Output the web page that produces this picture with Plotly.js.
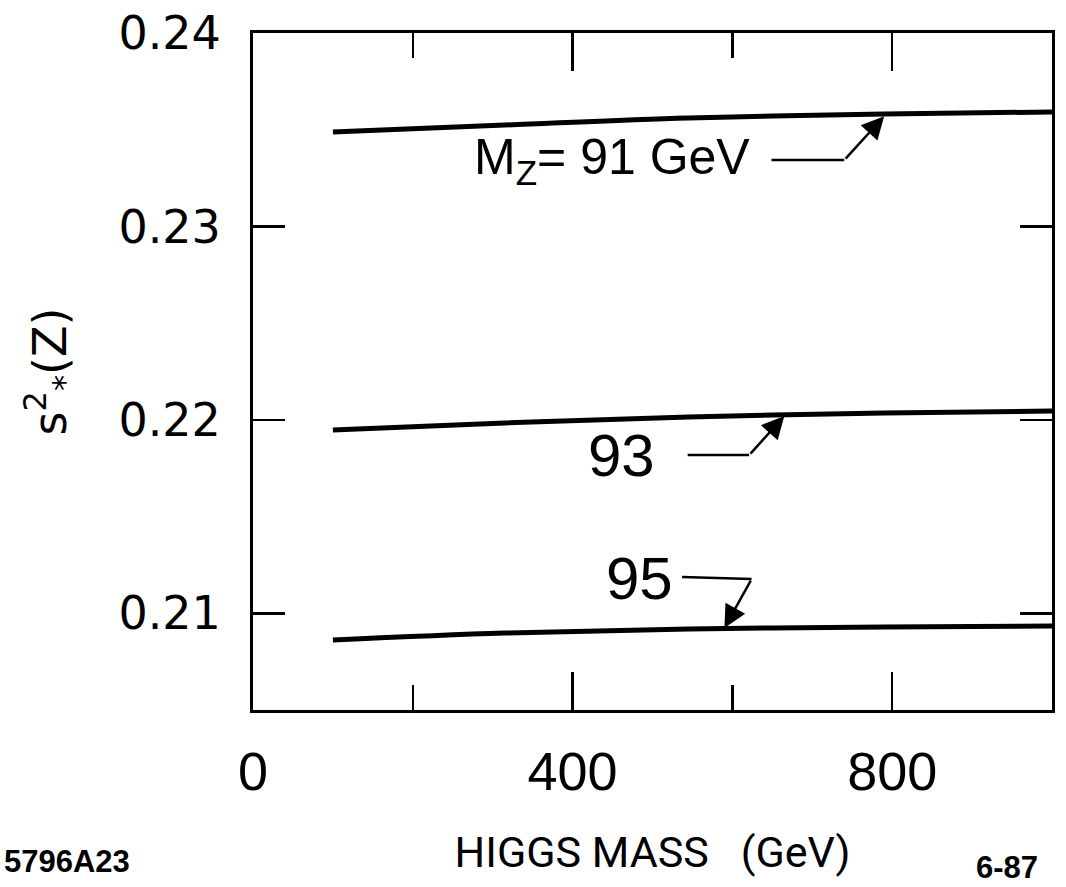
<!DOCTYPE html>
<html>
<head>
<meta charset="utf-8">
<script src="https://cdn.plot.ly/plotly-3.0.1.min.js"></script>
<style>html,body{margin:0;padding:0;background:#fff;}#chart{width:1066px;height:887px;}</style>
</head>
<body>
<div id="chart"></div>
<script>
// Higgs mass (GeV) sample points
const higgsMass = [100, 315, 545, 790, 1000];
// s*^2(Z) for the three Z masses
const mz91 = [0.23488, 0.23524, 0.23561, 0.23581, 0.23592];
const mz93 = [0.21948, 0.21984, 0.22015, 0.22035, 0.22046];
const mz95 = [0.20862, 0.20898, 0.20919, 0.20929, 0.20934];
const curveLabels = ['M<sub>Z</sub>= 91 GeV', '93', '95'];
const xTickVals = [0, 400, 800];
const xTickText = ['0', '400', '800'];
const yTickVals = [0.21, 0.22, 0.23, 0.24];
const yTickText = ['0.21', '0.22', '0.23', '0.24'];

const lineStyle = {color: 'black', width: 5, shape: 'spline'};
const traces = [mz91, mz93, mz95].map(function (ys, i) {
  return {x: higgsMass, y: ys, mode: 'lines', line: lineStyle, name: curveLabels[i], hoverinfo: 'skip'};
});

function seg(x0, y0, x1, y1) {
  return {type: 'line', xref: 'x', yref: 'y', x0: x0, y0: y0, x1: x1, y1: y1,
          line: {color: 'black', width: 2.5}};
}
function arrow(tx, ty, fx, fy) {
  return {x: tx, y: ty, ax: fx, ay: fy, xref: 'x', yref: 'y', axref: 'x', ayref: 'y',
          text: '', showarrow: true, arrowhead: 2, arrowsize: 1.8, arrowwidth: 2.5, arrowcolor: 'black', standoff: 0};
}
const annFont = {family: 'Liberation Sans, Arial, sans-serif', color: 'black'};

const layout = {
  width: 1066, height: 887,
  margin: {l: 253, r: 14, t: 33, b: 177},
  paper_bgcolor: 'white', plot_bgcolor: 'white',
  showlegend: false,
  xaxis: {
    range: [0, 1000], showgrid: false, zeroline: false,
    showline: true, linecolor: 'black', linewidth: 3, mirror: 'ticks',
    ticks: 'inside', ticklen: 38, tickwidth: 2.5, tickcolor: 'black',
    tickvals: xTickVals, ticktext: xTickText,
    minor: {dtick: 200, tick0: 0, ticks: 'inside', ticklen: 25, tickwidth: 2.5, tickcolor: 'black', showgrid: false},
    ticklabelstandoff: 12,
    tickfont: {family: 'Liberation Sans, Arial, sans-serif', size: 54, color: 'black'},
    title: {text: 'HIGGS MASS   (GeV)', standoff: 38,
            font: {family: 'Roboto, sans-serif', size: 43, color: 'black'}}
  },
  yaxis: {
    range: [0.205, 0.24], showgrid: false, zeroline: false,
    showline: true, linecolor: 'black', linewidth: 3, mirror: 'ticks',
    ticks: 'inside', ticklen: 32, tickwidth: 2.5, tickcolor: 'black',
    tickvals: yTickVals, ticktext: yTickText,
    ticklabelstandoff: 20,
    tickfont: {family: 'DejaVu Sans, sans-serif', size: 46, color: 'black'},
    title: {text: 's<sup>2</sup><sub>*</sub>(Z)', standoff: 38,
            font: {family: 'DejaVu Sans, sans-serif', size: 46, color: 'black'}}
  },
  shapes: [
    seg(649, 0.23343, 740, 0.23343),
    seg(544, 0.21818, 621, 0.21818),
    seg(537, 0.21188, 624, 0.21177)
  ],
  annotations: [
    {x: 449, y: 0.23343, xref: 'x', yref: 'y', text: curveLabels[0], showarrow: false,
     font: Object.assign({size: 50}, annFont)},
    {x: 461, y: 0.21818, xref: 'x', yref: 'y', text: curveLabels[1], showarrow: false,
     font: Object.assign({size: 60}, annFont)},
    {x: 484, y: 0.21182, xref: 'x', yref: 'y', text: curveLabels[2], showarrow: false,
     font: Object.assign({size: 60}, annFont)},
    arrow(790, 0.2357, 740, 0.23343),
    arrow(665, 0.2202, 621, 0.21818),
    arrow(590, 0.20924, 624, 0.21177),
    {x: 0, y: -0.2245, xref: 'paper', yref: 'paper', xanchor: 'left', yanchor: 'middle',
     text: '<b>5796A23</b>', showarrow: false, xshift: -251,
     font: {family: 'Liberation Sans, Arial, sans-serif', size: 31, color: 'black'}},
    {x: 1, y: -0.233, xref: 'paper', yref: 'paper', xanchor: 'right', yanchor: 'middle',
     text: '<b>6-87</b>', showarrow: false, xshift: -12,
     font: {family: 'Liberation Sans, Arial, sans-serif', size: 31, color: 'black'}}
  ]
};

Plotly.newPlot('chart', traces, layout, {staticPlot: true, displayModeBar: false});
</script>
</body>
</html>
